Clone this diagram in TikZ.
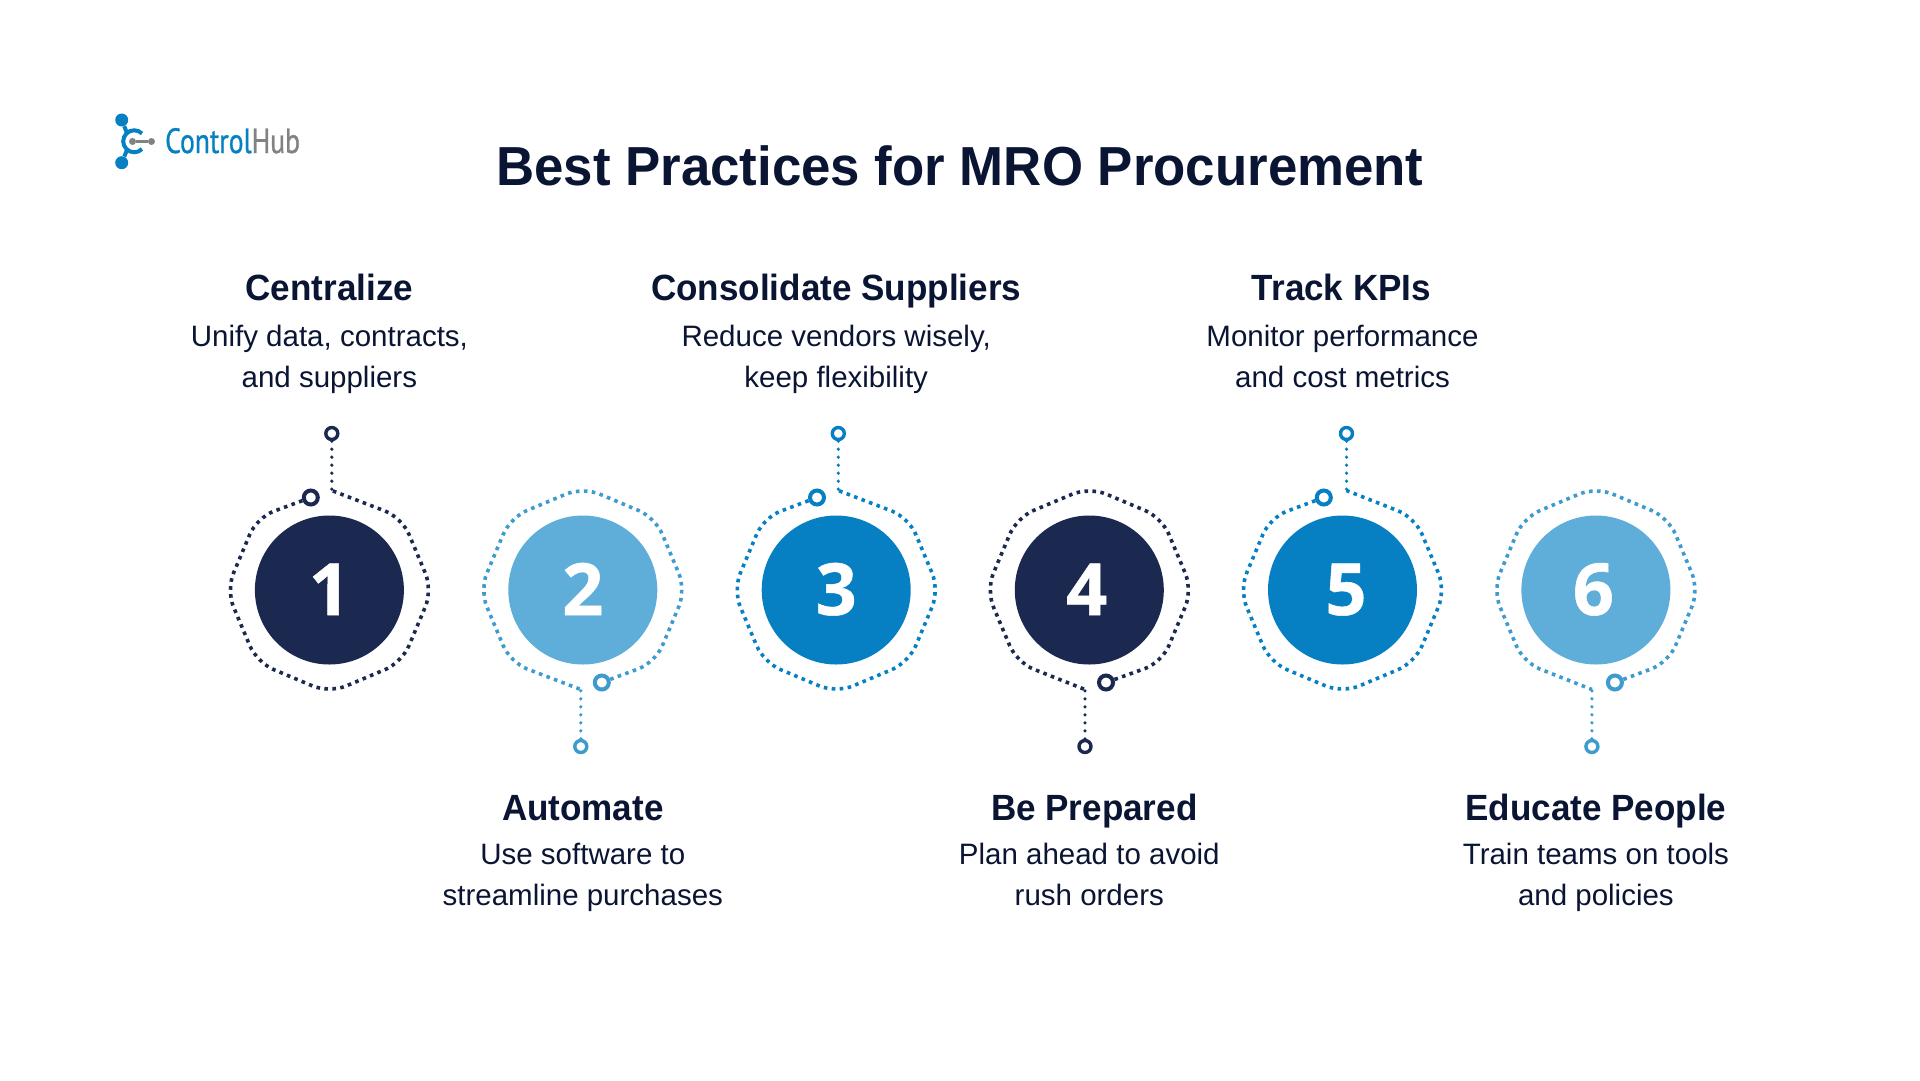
\documentclass[tikz,border=0pt]{standalone}
\usepackage{fontspec}
\setmainfont{Liberation Sans}[BoldFeatures={FakeStretch=0.96}]
\newfontfamily\numfont{Open Sans}[BoldFeatures={FakeBold=0.7}]
\newfontfamily\logofont{PT Sans}[FakeStretch=0.79,FakeBold=0.8]
\definecolor{inknavy}{HTML}{0A1433}
\definecolor{discnavy}{HTML}{1B2850}
\definecolor{discmid}{HTML}{0680C2}
\definecolor{discpale}{HTML}{5FADD9}
\definecolor{edgepale}{HTML}{3F9BCD}
\definecolor{logogray}{HTML}{808285}
\tikzset{
  headtxt/.style={anchor=base,text=inknavy,inner sep=0pt,font=\fontsize{36.5}{40}\selectfont\bfseries},
  bodytxt/.style={anchor=base,text=inknavy,inner sep=0pt,font=\fontsize{29.5}{41}\selectfont},
  outline/.style={line width=3.6pt,dash pattern=on 3.6pt off 4.4pt,rounded corners=18pt},
  pinlink/.style={line width=3.6pt,line cap=round,dash pattern=on 0pt off 8pt},
  bigring/.style={circle,draw,fill=white,line width=4pt,minimum size=14pt,inner sep=0pt},
  pinring/.style={circle,draw,fill=white,line width=3.4pt,minimum size=12pt,inner sep=0pt},
  logodot/.style={circle,fill=discmid,minimum size=13pt,inner sep=0pt},
  logopin/.style={circle,fill=logogray,minimum size=7pt,inner sep=0pt}
}
\begin{document}
\begin{tikzpicture}[x=1pt,y=-1pt]
\useasboundingbox (0,0) rectangle (1920,1080);
\node[anchor=base,inner sep=0pt,text=inknavy,font=\fontsize{55}{60}\selectfont\bfseries] (title) at (960,185.5) {Best Practices for MRO Procurement};

% logo
\node[logodot] (logotop) at (121.7,120) {};
\node[logodot] (logobot) at (121.7,162.7) {};
\coordinate (logoupper) at (127,133);
\coordinate (logolower) at (127,150);
\draw[discmid,line width=4pt] (logotop) -- (logoupper);
\draw[discmid,line width=4pt] (logobot) -- (logolower);
\draw[discmid,line width=4pt] (142,133.5) arc[start angle=-45,end angle=-315,radius=11];
\node[logopin] (logoa) at (132.5,141.5) {};
\node[logopin] (logob) at (151.5,141.5) {};
\draw[logogray,line width=3pt] (logoa) -- (logob);
\node[anchor=base west,inner sep=0pt,font=\fontsize{35}{36}\logofont] (logotxt) at (165,153) {\textcolor{discmid}{Control}\textcolor{logogray}{Hub}};

\foreach \num/\cx/\cc/\ec/\turn/\ringx/\pinx/\digx/\hx/\ya/\yb/\yc/\head/\linea/\lineb in {
  1/329.4/discnavy/discnavy/0/-18.6/2.4/0/0/300/346/387/{Centralize}/{Unify data, contracts,}/{and suppliers},
  2/582.8/discpale/edgepale/180/-19/2/0/0/820/864.5/905.5/{Automate}/{Use software to}/{streamline purchases},
  3/836.2/discmid/discmid/0/-19.2/2.1/0/0/300/346/387/{Consolidate Suppliers}/{Reduce vendors wisely,}/{keep flexibility},
  4/1089.3/discnavy/discnavy/180/-16.7/4.3/-2.5/5/820/864.5/905.5/{Be Prepared}/{Plan ahead to avoid}/{rush orders},
  5/1342.5/discmid/discmid/0/-18.7/4/3.5/-1/300/346/387/{Track KPIs}/{Monitor performance}/{and cost metrics},
  6/1595.9/discpale/edgepale/180/-19/4/-2.5/0/820/864.5/905.5/{Educate People}/{Train teams on tools}/{and policies}}{
  \node[circle,fill=\cc,minimum size=149pt,inner sep=0pt] (disc\num) at (\cx,590) {};
  \node[anchor=base,inner sep=0pt,text=white,font=\fontsize{72}{72}\numfont\bfseries] (digit\num) at (\cx+\digx,615) {\num};
  \begin{scope}[shift={(\cx,590)},rotate=\turn,\ec]
    \coordinate (join\num) at (\pinx,-99.5);
    \node[bigring] (ring\num) at (\ringx,-92.5) {};
    \node[pinring] (pin\num) at (\pinx,-156.5) {};
    \draw[outline] (ring\num) -- (-72.5,-72.5) -- (-103,0) -- (-72.5,72.5) -- (0,103) -- (72.5,72.5) -- (103,0) -- (72.5,-72.5) -- (join\num);
    \draw[pinlink] (pin\num) -- (join\num);
  \end{scope}
  \node[headtxt] (head\num) at (\cx+\hx,\ya) {\head};
  \node[bodytxt] (texta\num) at (\cx,\yb) {\linea};
  \node[bodytxt] (textb\num) at (\cx,\yc) {\lineb};
}
\end{tikzpicture}
\end{document}
